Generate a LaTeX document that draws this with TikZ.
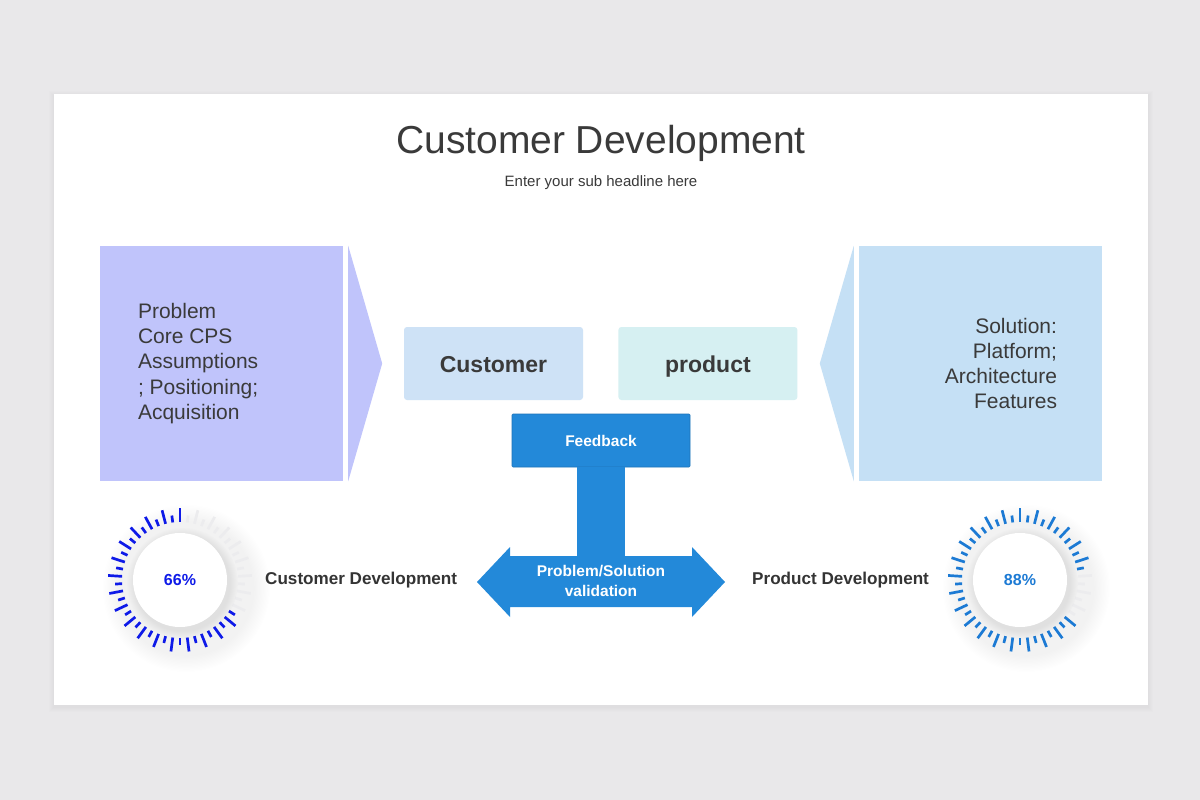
\documentclass[tikz,border=0pt]{standalone}
\usepackage{fontspec}
\setmainfont{Liberation Sans}
\usepackage{xcolor}
\usetikzlibrary{positioning,fadings}
\definecolor{pagegray}{RGB}{233,232,234}
\definecolor{inkgray}{RGB}{58,58,58}
\definecolor{probblue}{RGB}{192,196,251}
\definecolor{solblue}{RGB}{197,224,245}
\definecolor{custblue}{RGB}{206,226,246}
\definecolor{prodcyan}{RGB}{214,240,242}
\definecolor{fbblue}{RGB}{35,137,217}
\definecolor{gaugeblue}{RGB}{14,26,232}
\definecolor{gaugesky}{RGB}{28,122,212}
\definecolor{tickgray}{RGB}{236,236,238}

\begin{document}
\begin{tikzpicture}[
    x=1pt, y=-1pt,
    panel/.style={rectangle, minimum width=243pt, minimum height=235pt, inner sep=0pt},
    paneltext/.style={text=inkgray, font=\fontsize{21}{25.3}\selectfont, inner sep=0pt},
    midbox/.style={rectangle, rounded corners=3pt, minimum width=179pt, minimum height=73pt,
                   text height=18pt, text depth=1pt,
                   text=inkgray, font=\fontsize{23}{27}\selectfont\bfseries},
    fbbox/.style={rectangle, rounded corners=1pt, fill=fbblue, draw=fbblue!85!black, line width=0.6pt,
                  minimum width=178pt, minimum height=53pt, text=white,
                  font=\fontsize{15.5}{19}\selectfont\bfseries},
    stem/.style={draw=fbblue, line width=48pt},
    tick/.style={line width=2.7pt},
    pct/.style={font=\fontsize{16}{19}\selectfont\bfseries},
    gaugelabel/.style={anchor=west, inner sep=0pt, text=inkgray!90!black,
                       font=\fontsize{17.1}{20}\selectfont\bfseries}
  ]
    \useasboundingbox (0,0) rectangle (1200,800);
    \fill[pagegray] (0,0) rectangle (1200,800);
    \foreach \s in {1,...,5}
      \fill[black, opacity=0.008] (54-\s,94-\s+2) rectangle (1148+\s,705+\s+2);
    \fill[white] (54,94) rectangle (1148,705);

    \node[text=inkgray, font=\fontsize{39}{46}\selectfont] (title) at (601,143) {Customer Development};
    \node[text=inkgray, font=\fontsize{15}{18}\selectfont] (subtitle) at (601,183) {Enter your sub headline here};

    \node[panel, fill=probblue] (probpanel) at (221.5,363.5) {};
    \fill[probblue] ([xshift=5pt]probpanel.north east) -- ([xshift=39pt]probpanel.east)
      -- ([xshift=5pt]probpanel.south east) -- cycle;
    \node[paneltext, anchor=west, align=left] (probtext) at ([xshift=38pt]probpanel.west)
      {Problem\\Core CPS\\Assumptions\\; Positioning;\\Acquisition};

    \node[panel, fill=solblue] (solpanel) at (980.5,363.5) {};
    \fill[solblue] ([xshift=-5pt]solpanel.north west) -- ([xshift=-39pt]solpanel.west)
      -- ([xshift=-5pt]solpanel.south west) -- cycle;
    \node[paneltext, anchor=east, align=right] (soltext) at ([xshift=-45pt]solpanel.east)
      {Solution:\\Platform;\\Architecture\\Features};

    \node[midbox, fill=custblue] (custbox) at (493.5,363.5) {Customer};
    \node[midbox, fill=prodcyan, right=35pt of custbox] (prodbox) {product};

    \fill[fbblue] (477,582) -- (510,547) -- (510,556) -- (692,556) -- (692,547) -- (725,582)
      -- (692,617) -- (692,607) -- (510,607) -- (510,617) -- cycle;
    \node[fbbox] (feedback) at (601,440.5) {Feedback};
    \coordinate (stemfoot) at (601,557);
    \draw[stem] (feedback.south) -- (stemfoot);
    \node[text=white, align=center, inner sep=0pt, font=\fontsize{15.5}{20}\selectfont\bfseries]
      (validation) at (601,581) {Problem/Solution\\validation};

    \foreach \gname/\gx/\gcol/\gfrom/\gto/\gval in {cust/180/gaugeblue/1/16/66, prod/1020/gaugesky/12/17/88}{
      \begin{scope}[shift={(\gx,580)}, y=1pt]
        \fill[black, opacity=0.05, path fading=circle with fuzzy edge 20 percent] (6,-8) circle (84);
        \foreach \i in {0,...,49}{
          \pgfmathsetmacro\ang{90-7.2*\i}
          \ifodd\i \def\rin{58}\def\rout{65}\else \def\rin{58}\def\rout{72}\fi
          \def\tc{\gcol}
          \ifnum\i<\gfrom\else\ifnum\i>\gto\else\def\tc{tickgray}\fi\fi
          \draw[tick, draw=\tc] (\ang:\rin) -- (\ang:\rout);
        }
        \fill[black, opacity=0.07, path fading=circle with fuzzy edge 15 percent] (2,-3) circle (56);
        \fill[white] (0,0) circle (47);
        \node[pct, text=\gcol] (pct\gname) at (0,0) {\gval\%};
      \end{scope}
    }

    \node[gaugelabel] (custlabel) at (265,580) {Customer Development};
    \node[gaugelabel] (prodlabel) at (752,580) {Product Development};
\end{tikzpicture}
\end{document}
